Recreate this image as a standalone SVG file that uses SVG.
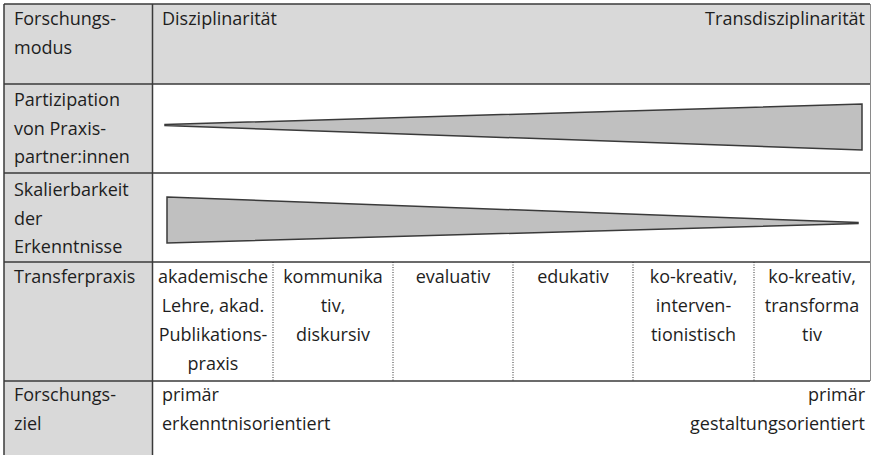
<svg xmlns="http://www.w3.org/2000/svg" width="873" height="455" viewBox="0 0 873 455">
<style>
  text { font-family: "Open Sans", "Noto Sans", "DejaVu Sans", sans-serif; font-size: 18px; fill: #1e1e1e; }
  .c { text-anchor: middle; }
  .e { text-anchor: end; }
  .grid { stroke: #3a3a3a; stroke-width: 1.5; fill: none; }
  .dot { stroke: #333; stroke-width: 1; stroke-dasharray: 1 1.5; }
  .wedge { fill: #c0c0c0; stroke: #3a3a3a; stroke-width: 1.5; stroke-linejoin: miter; }
  .shade { fill: #d9d9d9; }
</style>
<rect x="0" y="0" width="873" height="455" fill="#ffffff"/>
<g id="backgrounds">
  <rect class="shade" x="4" y="4" width="866" height="80"/>
  <rect class="shade" x="4" y="84" width="148" height="371"/>
</g>
<g id="connectors">
  <line class="grid" x1="4" y1="4" x2="870" y2="4"/>
  <line class="grid" x1="4" y1="84" x2="870" y2="84"/>
  <line class="grid" x1="4" y1="173" x2="870" y2="173"/>
  <line class="grid" x1="4" y1="262" x2="870" y2="262"/>
  <line class="grid" x1="4" y1="381" x2="870" y2="381"/>
  <line class="grid" x1="4" y1="4" x2="4" y2="455"/>
  <line class="grid" x1="152.5" y1="4" x2="152.5" y2="455"/>
  <line x1="870.5" y1="4" x2="870.5" y2="381" stroke="#8a8a8a" stroke-width="1"/>
  <line class="dot" x1="273" y1="262" x2="273" y2="381"/>
  <line class="dot" x1="393" y1="262" x2="393" y2="381"/>
  <line class="dot" x1="513" y1="262" x2="513" y2="381"/>
  <line class="dot" x1="633" y1="262" x2="633" y2="381"/>
  <line class="dot" x1="754" y1="262" x2="754" y2="381"/>
</g>
<g id="row-forschungsmodus">
  <text x="14" y="25">Forschungs-</text>
  <text x="14" y="54">modus</text>
  <text x="162" y="25">Disziplinarität</text>
  <text class="e" x="865" y="25">Transdisziplinarität</text>
</g>
<g id="row-partizipation">
  <text x="14" y="106">Partizipation</text>
  <text x="14" y="134.5">von Praxis-</text>
  <text x="14" y="163">partner:innen</text>
  <polygon class="wedge" points="165,124.5 862,104 862,150 165,125.5"/>
</g>
<g id="row-skalierbarkeit">
  <text x="14" y="196">Skalierbarkeit</text>
  <text x="14" y="224.5">der</text>
  <text x="14" y="253">Erkenntnisse</text>
  <polygon class="wedge" points="167,197 858,222.5 858,223.5 167,243"/>
</g>
<g id="row-transferpraxis">
  <text x="14" y="283">Transferpraxis</text>
  <text class="c" x="213" y="283">akademische</text>
  <text class="c" x="213" y="312">Lehre, akad.</text>
  <text class="c" x="213" y="341">Publikations-</text>
  <text class="c" x="213" y="370">praxis</text>
  <text class="c" x="333" y="283">kommunika</text>
  <text class="c" x="333" y="312">tiv,</text>
  <text class="c" x="333" y="341">diskursiv</text>
  <text class="c" x="453" y="283">evaluativ</text>
  <text class="c" x="573" y="283">edukativ</text>
  <text class="c" x="693.5" y="283">ko-kreativ,</text>
  <text class="c" x="693.5" y="312">interven-</text>
  <text class="c" x="693.5" y="341">tionistisch</text>
  <text class="c" x="812" y="283">ko-kreativ,</text>
  <text class="c" x="812" y="312">transforma</text>
  <text class="c" x="812" y="341">tiv</text>
</g>
<g id="row-forschungsziel">
  <text x="14" y="401">Forschungs-</text>
  <text x="14" y="430">ziel</text>
  <text x="162" y="401">primär</text>
  <text x="162" y="430">erkenntnisorientiert</text>
  <text class="e" x="865" y="401">primär</text>
  <text class="e" x="865" y="430">gestaltungsorientiert</text>
</g>
</svg>
